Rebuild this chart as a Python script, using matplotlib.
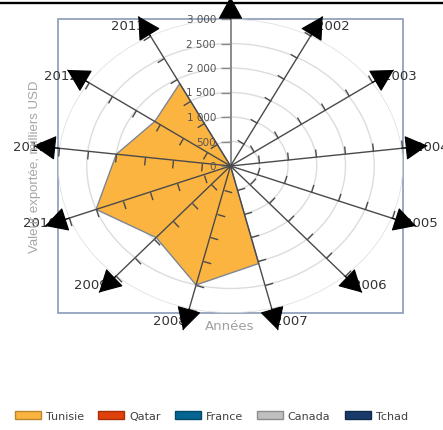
import numpy as np
import matplotlib
matplotlib.use("Agg")
import matplotlib.pyplot as plt
from matplotlib.patches import Patch, Rectangle
from matplotlib.markers import MarkerStyle
from matplotlib.path import Path
from matplotlib.transforms import Affine2D
from matplotlib.lines import Line2D

# Export values (thousands USD) per year, one list per country
years = ["2001", "2002", "2003", "2004", "2005", "2006", "2007",
         "2008", "2009", "2010", "2011", "2012", "2013"]
tunisie = [0, 0, 0, 0, 0, 0, 2050, 2500, 1950, 2500, 2000, 1600, 1900]
qatar = [0, 0, 0, 0, 0, 0, 0, 0, 0, 0, 0, 0, 0]
france = [0, 0, 0, 0, 0, 0, 0, 0, 0, 0, 0, 0, 0]
canada = [0, 0, 0, 0, 0, 0, 0, 0, 0, 0, 0, 0, 0]
tchad = [0, 0, 0, 0, 0, 0, 0, 0, 0, 0, 0, 0, 0]

countries = ["Tunisie", "Qatar", "France", "Canada", "Tchad"]
face_colors = ["#fcb441", "#e0400a", "#056492", "#bfbfbf", "#1a3b69"]
edge_colors = ["#b8862e", "#a83008", "#04486a", "#8c8c8c", "#12294a"]

radial_ticks = [0, 500, 1000, 1500, 2000, 2500, 3000]
radial_labels = ["0", "500", "1 000", "1 500", "2 000", "2 500", "3 000"]

plt.rcParams["font.family"] = ["DejaVu Sans"]

W, H = 443, 431
fig = plt.figure(figsize=(W / 100, H / 100), dpi=100)
fig.patch.set_facecolor("white")

ax = fig.add_axes([58 / W, 117 / H, 345 / W, 294 / H], projection="polar")
ax.set_aspect("auto")
ax.set_theta_zero_location("N")
ax.set_theta_direction(-1)
ax.set_autoscale_on(False)
ax.set_ylim(0, 3000)
ax.set_xticks([])
ax.set_yticks(radial_ticks[1:])
ax.set_yticklabels([])
ax.yaxis.grid(True, color="#dcdcdc", lw=1.0)
ax.xaxis.grid(False)
ax.spines["polar"].set_visible(False)
ax.patch.set_alpha(0)

n = len(years)
theta = np.arange(n) * 2 * np.pi / n
theta_closed = np.append(theta, theta[0])

# Rectangular frame around the plot area
ax.add_patch(Rectangle((0, 0), 1, 1, transform=ax.transAxes, fill=False,
                       ec="#8a9bb6", lw=1.2, clip_on=False, zorder=0.5))

# Country polygons
series = [tunisie, qatar, france, canada, tchad]
for vals, fc, ec, z in reversed(list(zip(series, face_colors, edge_colors,
                                         [2.5, 2.4, 2.3, 2.2, 2.1]))):
    v = np.append(vals, vals[0])
    if max(vals) > 0:
        ax.fill(theta_closed, v, facecolor=fc, edgecolor="#7d8693",
                lw=1.0, zorder=z)

R_TIP = 3450
fig.canvas.draw()

for i, th in enumerate(theta):
    main = i == 0
    ax.plot([th, th], [0, R_TIP], color="#8a8a8a" if main else "#4a4a4a",
            lw=1.4 if main else 1.0, clip_on=False, zorder=3,
            solid_capstyle="butt")
    # screen direction of the spoke, for perpendicular tick marks
    c = ax.transData.transform((th, 0))
    p = ax.transData.transform((th, 1000))
    d = p - c
    ang = np.degrees(np.arctan2(d[1], d[0])) + 90
    tick = MarkerStyle(Path([(0, 0), (1, 0)], [Path.MOVETO, Path.LINETO]),
                       transform=Affine2D().rotate_deg(ang))
    rt = radial_ticks if main else radial_ticks[1:]
    ax.plot([th] * len(rt), rt, linestyle="none", marker=tick,
            markersize=14.4 if main else 11.5, markeredgewidth=1.0,
            markeredgecolor="#8a8a8a" if main else "#4a4a4a",
            markerfacecolor="none", clip_on=False, zorder=3)
    ax.annotate("", xy=(th, R_TIP), xytext=(th, 3000),
                arrowprops=dict(arrowstyle="-|>,head_length=0.4,head_width=0.22",
                                mutation_scale=36, color="black", lw=0.8,
                                shrinkA=0, shrinkB=0),
                annotation_clip=False, zorder=6)
    if not main:
        side = 1 if np.sin(th) > 0 else -1
        ax.annotate(years[i], xy=(th, 3240), xytext=(side * 11.5, 0),
                    textcoords="offset points", ha="center", va="center",
                    fontsize=9.5, color="#333333", zorder=5,
                    annotation_clip=False)

# Radial scale labels on the vertical axis
for r, lbl in zip(radial_ticks, radial_labels):
    ax.annotate(lbl, xy=(0, r), xytext=(-10.5, 0), textcoords="offset points",
                ha="right", va="center", fontsize=7.5, color="#555555",
                annotation_clip=False, zorder=5)

fig.text(35 / W, 1 - 167 / H, "Valeur exportée, milliers USD", rotation=90,
         ha="center", va="center", fontsize=9.5, color="#a6a6a6",
         family=["Liberation Sans"])
fig.text(230 / W, 1 - 327 / H, "Années", ha="center", va="center",
         fontsize=9.5, color="#a0a0a0")

# Top rule
fig.add_artist(Line2D([0, 1], [1 - 3.8 / H, 1 - 3.8 / H], transform=fig.transFigure,
                      color="black", lw=1.7, zorder=10))

handles = [Patch(facecolor=fc, edgecolor=ec, lw=1.0, label=name)
           for name, fc, ec in zip(countries, face_colors, edge_colors)]
fig.legend(handles=handles, loc="center left",
           bbox_to_anchor=(15 / W, 1 - 416.7 / H), ncol=5, frameon=False,
           fontsize=8, handlelength=2.34, handleheight=0.68,
           handletextpad=0.45, columnspacing=1.26, borderpad=0,
           borderaxespad=0, labelcolor="#404040")

fig.savefig("out.png", dpi=100)
